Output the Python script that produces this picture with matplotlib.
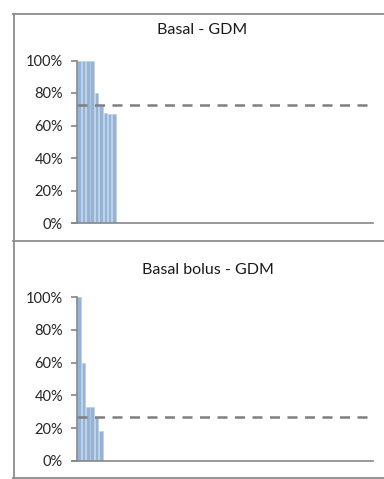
import matplotlib.pyplot as plt
import numpy as np

plt.rcParams['font.family'] = ['Lato', 'DejaVu Sans']

# 数据
n_categories = 68
basal_values = [100, 100, 100, 100, 80, 72, 68, 67, 67]
basal_ref = 72.7
bolus_values = [100, 60, 33, 33, 27, 18]
bolus_ref = 27
titles = ['Basal - GDM', 'Basal bolus - GDM']
yticks = [0, 20, 40, 60, 80, 100]
ytick_labels = ['0%', '20%', '40%', '60%', '80%', '100%']

W, H = 384, 479
fig = plt.figure(figsize=(W / 100, H / 100), dpi=100)

bar_color = '#95b3d7'
axis_gray = '#868686'


def fx(px):
    return px / W


def fy(py):
    return 1 - py / H


def draw_panel(rect, values, ref, title, title_xy):
    ax = fig.add_axes(rect)
    vals = list(values) + [0] * (n_categories - len(values))
    x = np.arange(n_categories)
    ax.bar(x, vals, width=0.8, color=bar_color, edgecolor='#b8cce4', linewidth=0.4)
    ax.plot([-0.5, n_categories - 0.5], [ref, ref], color='#7f7f7f', lw=1.8,
            dashes=(4, 3), solid_capstyle='butt')
    ax.set_xlim(-0.5, n_categories - 0.5)
    ax.set_ylim(0, 100)
    ax.set_yticks(yticks)
    ax.set_yticklabels(ytick_labels, fontsize=10.5, color='#262626')
    ax.set_xticks([])
    for s in ['top', 'right']:
        ax.spines[s].set_visible(False)
    ax.spines['left'].set_color(axis_gray)
    ax.spines['bottom'].set_color(axis_gray)
    ax.spines['left'].set_linewidth(1.2)
    ax.spines['bottom'].set_linewidth(1.2)
    ax.tick_params(axis='y', length=4, width=1.2, color=axis_gray, pad=6)
    # x轴线向左延伸一点
    ax.plot([-0.5 - 1.2, -0.5], [0, 0], color=axis_gray, lw=1.2, clip_on=False)
    fig.text(fx(title_xy[0]), fy(title_xy[1]), title, ha='center', va='center',
             fontsize=11.5, color='#1a1a1a')
    return ax


draw_panel([fx(77), fy(223), fx(373) - fx(77), fy(60.5) - fy(223)],
           basal_values, basal_ref, titles[0], (202, 30))
draw_panel([fx(77), fy(461), fx(373) - fx(77), fy(297) - fy(461)],
           bolus_values, bolus_ref, titles[1], (208, 270))

# 面板边框
border = dict(color='#8c8c8c', lw=1.3, transform=fig.transFigure)
fig.add_artist(plt.Line2D([fx(13.5), fx(13.5)], [fy(14), fy(478)], **border))
for yy in [14, 241, 478]:
    fig.add_artist(plt.Line2D([fx(13), 1], [fy(yy), fy(yy)], **border))

fig.savefig('out.png', dpi=100)
